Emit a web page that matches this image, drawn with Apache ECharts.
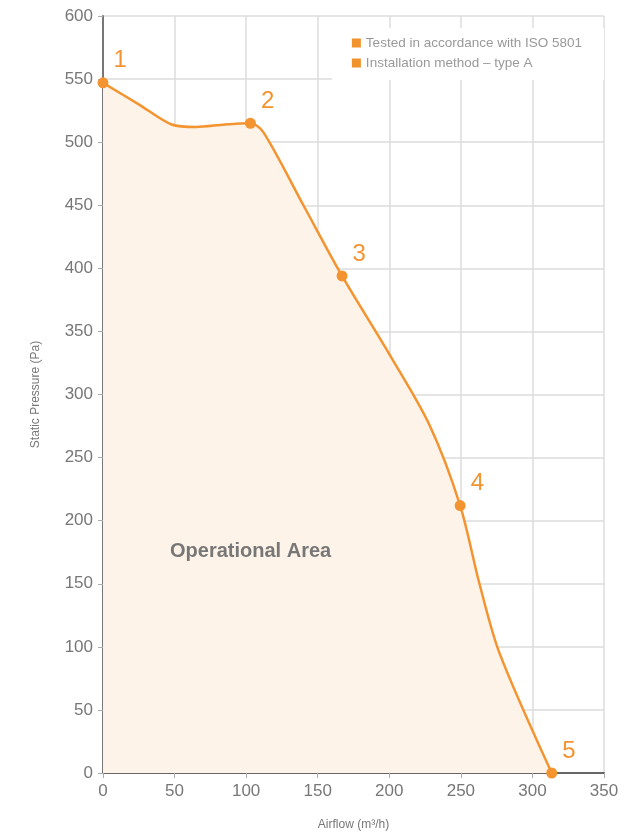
<!DOCTYPE html>
<html>
<head>
  <meta charset="utf-8" />
  <title>Fan curve</title>
</head>
<style type="text/css">
  body { margin: 0; background: #fff; }
  #main { width: 636px; height: 836px; }
</style>
<body>
  <div id="main"></div>
  <script src="https://cdn.jsdelivr.net/npm/echarts@6/dist/echarts.min.js"></script>
  <script>
    // curve through the measured points (airflow, pressure)
    var curveFlow = [0, 25, 48, 65, 85, 103, 112, 140, 167, 200, 228, 249.5, 263, 277, 313.5];
    var curvePressure = [547, 530, 514, 512, 514, 515, 508, 450, 394, 332, 276, 212, 150, 95, 0];
    // numbered operating points
    var pointNames = ['1', '2', '3', '4', '5'];
    var pointFlow = [0, 103, 167, 249.5, 313.5];
    var pointPressure = [547, 515, 394, 212, 0];
    var legendItems = ['Tested in accordance with ISO 5801', 'Installation method \u2013 type A'];

    var orange = '#f39431';
    var grey = '#777';
    var myChart = echarts.init(document.getElementById('main'));

    var curveData = curveFlow.map(function (x, i) { return [x, curvePressure[i]]; });
    var pointData = pointFlow.map(function (x, i) {
      return { name: pointNames[i], value: [x, pointPressure[i]] };
    });

    var option = {
      animation: false,
      textStyle: { fontFamily: 'Liberation Sans' },
      grid: { left: 103, right: 32, top: 16, bottom: 61 },
      legend: {
        data: legendItems,
        orient: 'vertical',
        right: 32,
        top: 28,
        backgroundColor: '#fff',
        padding: [8, 22, 10, 20],
        itemWidth: 9,
        itemHeight: 9,
        itemGap: 6,
        icon: 'rect',
        textStyle: { color: '#999', fontSize: 13.5, fontFamily: 'Liberation Sans' }
      },
      xAxis: {
        type: 'value',
        min: 0,
        max: 350,
        interval: 50,
        name: 'Airflow (m\u00b3/h)',
        nameLocation: 'middle',
        nameGap: 46,
        nameTextStyle: { color: grey, fontSize: 12 },
        axisLine: { lineStyle: { color: '#666', width: 2 } },
        axisTick: { show: true, length: 5, lineStyle: { color: '#aaa' } },
        axisLabel: { color: grey, fontSize: 17, margin: 10 },
        splitLine: { lineStyle: { color: '#ddd', width: 1.5 } }
      },
      yAxis: {
        type: 'value',
        min: 0,
        max: 600,
        interval: 50,
        name: 'Static Pressure (Pa)',
        nameLocation: 'middle',
        nameGap: 61,
        nameTextStyle: { color: grey, fontSize: 12 },
        axisLine: { show: true, lineStyle: { color: '#777', width: 2 } },
        axisTick: { show: true, length: 5, lineStyle: { color: '#aaa' } },
        axisLabel: { color: grey, fontSize: 17, margin: 10 },
        splitLine: { lineStyle: { color: '#ddd', width: 1.5 } }
      },
      graphic: [{
        type: 'text',
        left: 170,
        top: 541,
        z: 100,
        style: { text: 'Operational Area', fill: '#777', fontSize: 20, fontWeight: 'bold', fontFamily: 'Liberation Sans' }
      }],
      series: [{
        name: 'curve',
        type: 'line',
        data: curveData,
        smooth: 0.3,
        showSymbol: false,
        lineStyle: { color: orange, width: 2.5 },
        areaStyle: { color: '#fdf3e8', opacity: 1 },
        z: 2
      }, {
        name: 'points',
        type: 'scatter',
        data: pointData,
        symbolSize: 11,
        itemStyle: { color: orange, opacity: 1 },
        label: {
          show: true,
          formatter: '{b}',
          position: 'right',
          offset: [0, -22],
          color: orange,
          fontSize: 24
        },
        z: 5
      }, {
        name: legendItems[0],
        type: 'line',
        data: [],
        itemStyle: { color: '#f0932d' }
      }, {
        name: legendItems[1],
        type: 'line',
        data: [],
        itemStyle: { color: '#f0932d' }
      }]
    };
    myChart.setOption(option);
  </script>
</body>
</html>
